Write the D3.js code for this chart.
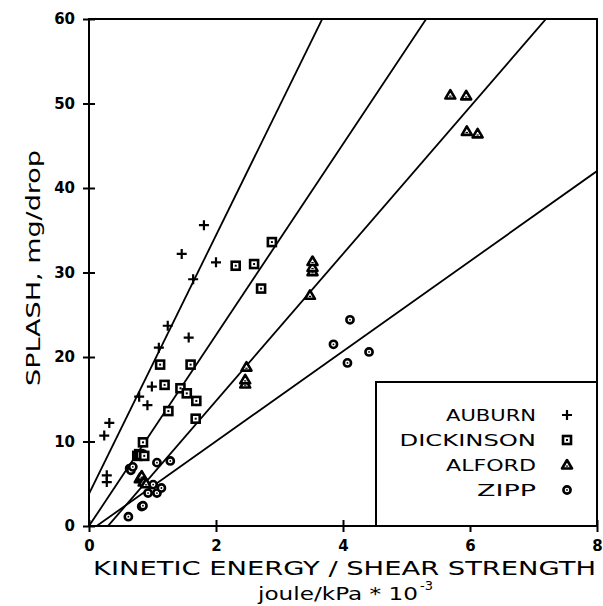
<!DOCTYPE html>
<html>
<head>
<meta charset="utf-8">
<script src="https://cdn.jsdelivr.net/npm/d3@7"></script>
<style>
  body { margin: 0; background: #fff; }
  text { font-family: "DejaVu Sans", sans-serif; fill: #000; }
</style>
</head>
<body>
<svg width="603" height="606"></svg>
<script>
// values
var xTicks = [0, 2, 4, 6, 8];
var yTicks = [0, 10, 20, 30, 40, 50, 60];

var auburnX = [0.24, 0.32, 0.28, 0.28, 0.79, 0.92, 0.99, 1.10, 1.24, 1.46, 1.57, 1.64, 1.81, 2.00];
var auburnY = [10.7, 12.2, 6.0, 5.2, 15.3, 14.3, 16.5, 21.1, 23.7, 32.2, 22.3, 29.2, 35.6, 31.2];

var dickinsonX = [0.76, 0.79, 0.82, 0.87, 0.85, 1.12, 1.19, 1.25, 1.44, 1.54, 1.60, 1.68, 1.69, 2.31, 2.60, 2.71, 2.88];
var dickinsonY = [8.3, 8.5, 8.4, 8.3, 9.9, 19.1, 16.7, 13.6, 16.3, 15.7, 19.1, 12.7, 14.8, 30.8, 31.0, 28.1, 33.6];

var alfordX = [0.80, 0.83, 0.86, 0.90, 2.46, 2.46, 2.48, 3.48, 3.52, 3.52, 3.52, 5.69, 5.94, 5.95, 6.12];
var alfordY = [5.6, 5.9, 5.2, 5.0, 16.8, 17.3, 18.8, 27.3, 30.1, 30.6, 31.3, 51.0, 50.9, 46.7, 46.4];

var zippX = [0.62, 0.64, 0.66, 0.69, 0.83, 0.85, 0.93, 1.01, 1.07, 1.14, 1.07, 1.28, 3.85, 4.07, 4.11, 4.41];
var zippY = [1.1, 6.8, 6.6, 7.0, 2.3, 2.4, 3.9, 4.9, 3.9, 4.5, 7.5, 7.7, 21.5, 19.3, 24.4, 20.6];

// fitted lines, one per soil: splash = slope * x + intercept
var lineSlopes = [15.3, 11.3, 8.7, 5.33];
var lineIntercepts = [3.8, 0, -2.6, -0.64];

var legendNames = ["AUBURN", "DICKINSON", "ALFORD", "ZIPP"];
var legendShapes = ["plus", "square", "triangle", "circle"];

var svg = d3.select("svg");
var x = d3.scaleLinear().domain([0, 8]).range([89, 597]);
var y = d3.scaleLinear().domain([0, 60]).range([526, 19]);

svg.append("clipPath").attr("id", "plotClip")
  .append("rect")
  .attr("x", x(0)).attr("y", y(60))
  .attr("width", x(8) - x(0)).attr("height", y(0) - y(60));

// regression lines
svg.append("g").attr("clip-path", "url(#plotClip)")
  .selectAll("line")
  .data(d3.range(lineSlopes.length))
  .enter()
  .append("line")
  .attr("x1", x(0))
  .attr("y1", function(i) { return y(lineIntercepts[i]); })
  .attr("x2", x(8))
  .attr("y2", function(i) { return y(lineSlopes[i] * 8 + lineIntercepts[i]); })
  .style("stroke", "#000")
  .style("stroke-width", 1.8);

// axes
var xAxis = svg.append("g")
  .attr("transform", "translate(0," + y(0) + ")")
  .call(d3.axisBottom(x).tickValues(xTicks).tickFormat(d3.format("d")).tickSize(6));
xAxis.selectAll(".tick line").attr("y1", -6).attr("y2", 6).style("stroke-width", 2);
xAxis.selectAll(".tick text").attr("y", 14)
  .style("font-size", "15px").style("font-weight", "bold");

var yAxis = svg.append("g")
  .attr("transform", "translate(" + x(0) + ",0)")
  .call(d3.axisLeft(y).tickValues(yTicks).tickFormat(d3.format("d")).tickSize(6));
yAxis.selectAll(".tick line").attr("x1", -6).attr("x2", 6).style("stroke-width", 2);
yAxis.selectAll(".tick text").attr("x", -14)
  .style("font-size", "15px").style("font-weight", "bold");
svg.selectAll(".domain").remove();

// frame
svg.append("rect")
  .attr("x", x(0)).attr("y", y(60))
  .attr("width", x(8) - x(0)).attr("height", y(0) - y(60))
  .style("fill", "none").style("stroke", "#000").style("stroke-width", 2);

// markers
function drawMarker(g, shape) {
  if (shape == "plus") {
    g.append("path").attr("d", "M-5,0H5M0,-5V5")
      .style("stroke", "#000").style("stroke-width", 2.2).style("fill", "none");
  } else if (shape == "square") {
    g.append("rect").attr("x", -4).attr("y", -4).attr("width", 8).attr("height", 8)
      .style("stroke", "#000").style("stroke-width", 2.6).style("fill", "#fff");
    g.append("rect").attr("x", -1).attr("y", -1).attr("width", 2).attr("height", 2).style("fill", "#000");
  } else if (shape == "triangle") {
    g.append("path").attr("d", "M0,-5L5,3.5H-5Z")
      .style("stroke", "#000").style("stroke-width", 2.6).style("fill", "#fff")
      .style("stroke-linejoin", "round");
    g.append("rect").attr("x", -1.2).attr("y", 0.5).attr("width", 2.4).attr("height", 1.2).style("fill", "#000");
  } else {
    g.append("circle").attr("r", 3.6)
      .style("stroke", "#000").style("stroke-width", 2.6).style("fill", "#fff");
    g.append("circle").attr("r", 0.9).style("fill", "#000");
  }
}

var series = [
  { xs: auburnX, ys: auburnY, shape: "plus" },
  { xs: dickinsonX, ys: dickinsonY, shape: "square" },
  { xs: alfordX, ys: alfordY, shape: "triangle" },
  { xs: zippX, ys: zippY, shape: "circle" }
];
series.forEach(function(s) {
  svg.append("g").selectAll("g")
    .data(d3.range(s.xs.length))
    .enter()
    .append("g")
    .attr("transform", function(i) { return "translate(" + x(s.xs[i]) + "," + y(s.ys[i]) + ")"; })
    .each(function() { drawMarker(d3.select(this), s.shape); });
});

// legend box
var legend = svg.append("g");
legend.append("rect")
  .attr("x", 376).attr("y", 382)
  .attr("width", x(8) - 376).attr("height", y(0) - 382)
  .style("fill", "#fff").style("stroke", "#000").style("stroke-width", 2);
legendNames.forEach(function(name, i) {
  var ty = 421 + i * 25;
  legend.append("text")
    .attr("x", 536).attr("y", ty)
    .attr("text-anchor", "end")
    .attr("textLength", name.length * 15.5 - 3)
    .attr("lengthAdjust", "spacingAndGlyphs")
    .style("font-size", "16px")
    .text(name);
  var mg = legend.append("g").attr("transform", "translate(567," + (ty - 6) + ")");
  drawMarker(mg, legendShapes[i]);
});

// axis titles
svg.append("text")
  .attr("x", 93).attr("y", 575)
  .attr("textLength", 503)
  .attr("lengthAdjust", "spacingAndGlyphs")
  .style("font-size", "19px")
  .text("KINETIC ENERGY / SHEAR STRENGTH");

var unit = svg.append("text")
  .attr("x", 258).attr("y", 600)
  .style("font-size", "18px");
unit.append("tspan").attr("textLength", 160).attr("lengthAdjust", "spacingAndGlyphs")
  .text("joule/kPa * 10");
unit.append("tspan").attr("dy", -10).attr("dx", 2)
  .style("font-size", "13px")
  .text("-3");

svg.append("text")
  .attr("transform", "translate(40,268) rotate(-90)")
  .attr("text-anchor", "middle")
  .attr("textLength", 236)
  .attr("lengthAdjust", "spacingAndGlyphs")
  .style("font-size", "19px")
  .text("SPLASH, mg/drop");
</script>
</body>
</html>
